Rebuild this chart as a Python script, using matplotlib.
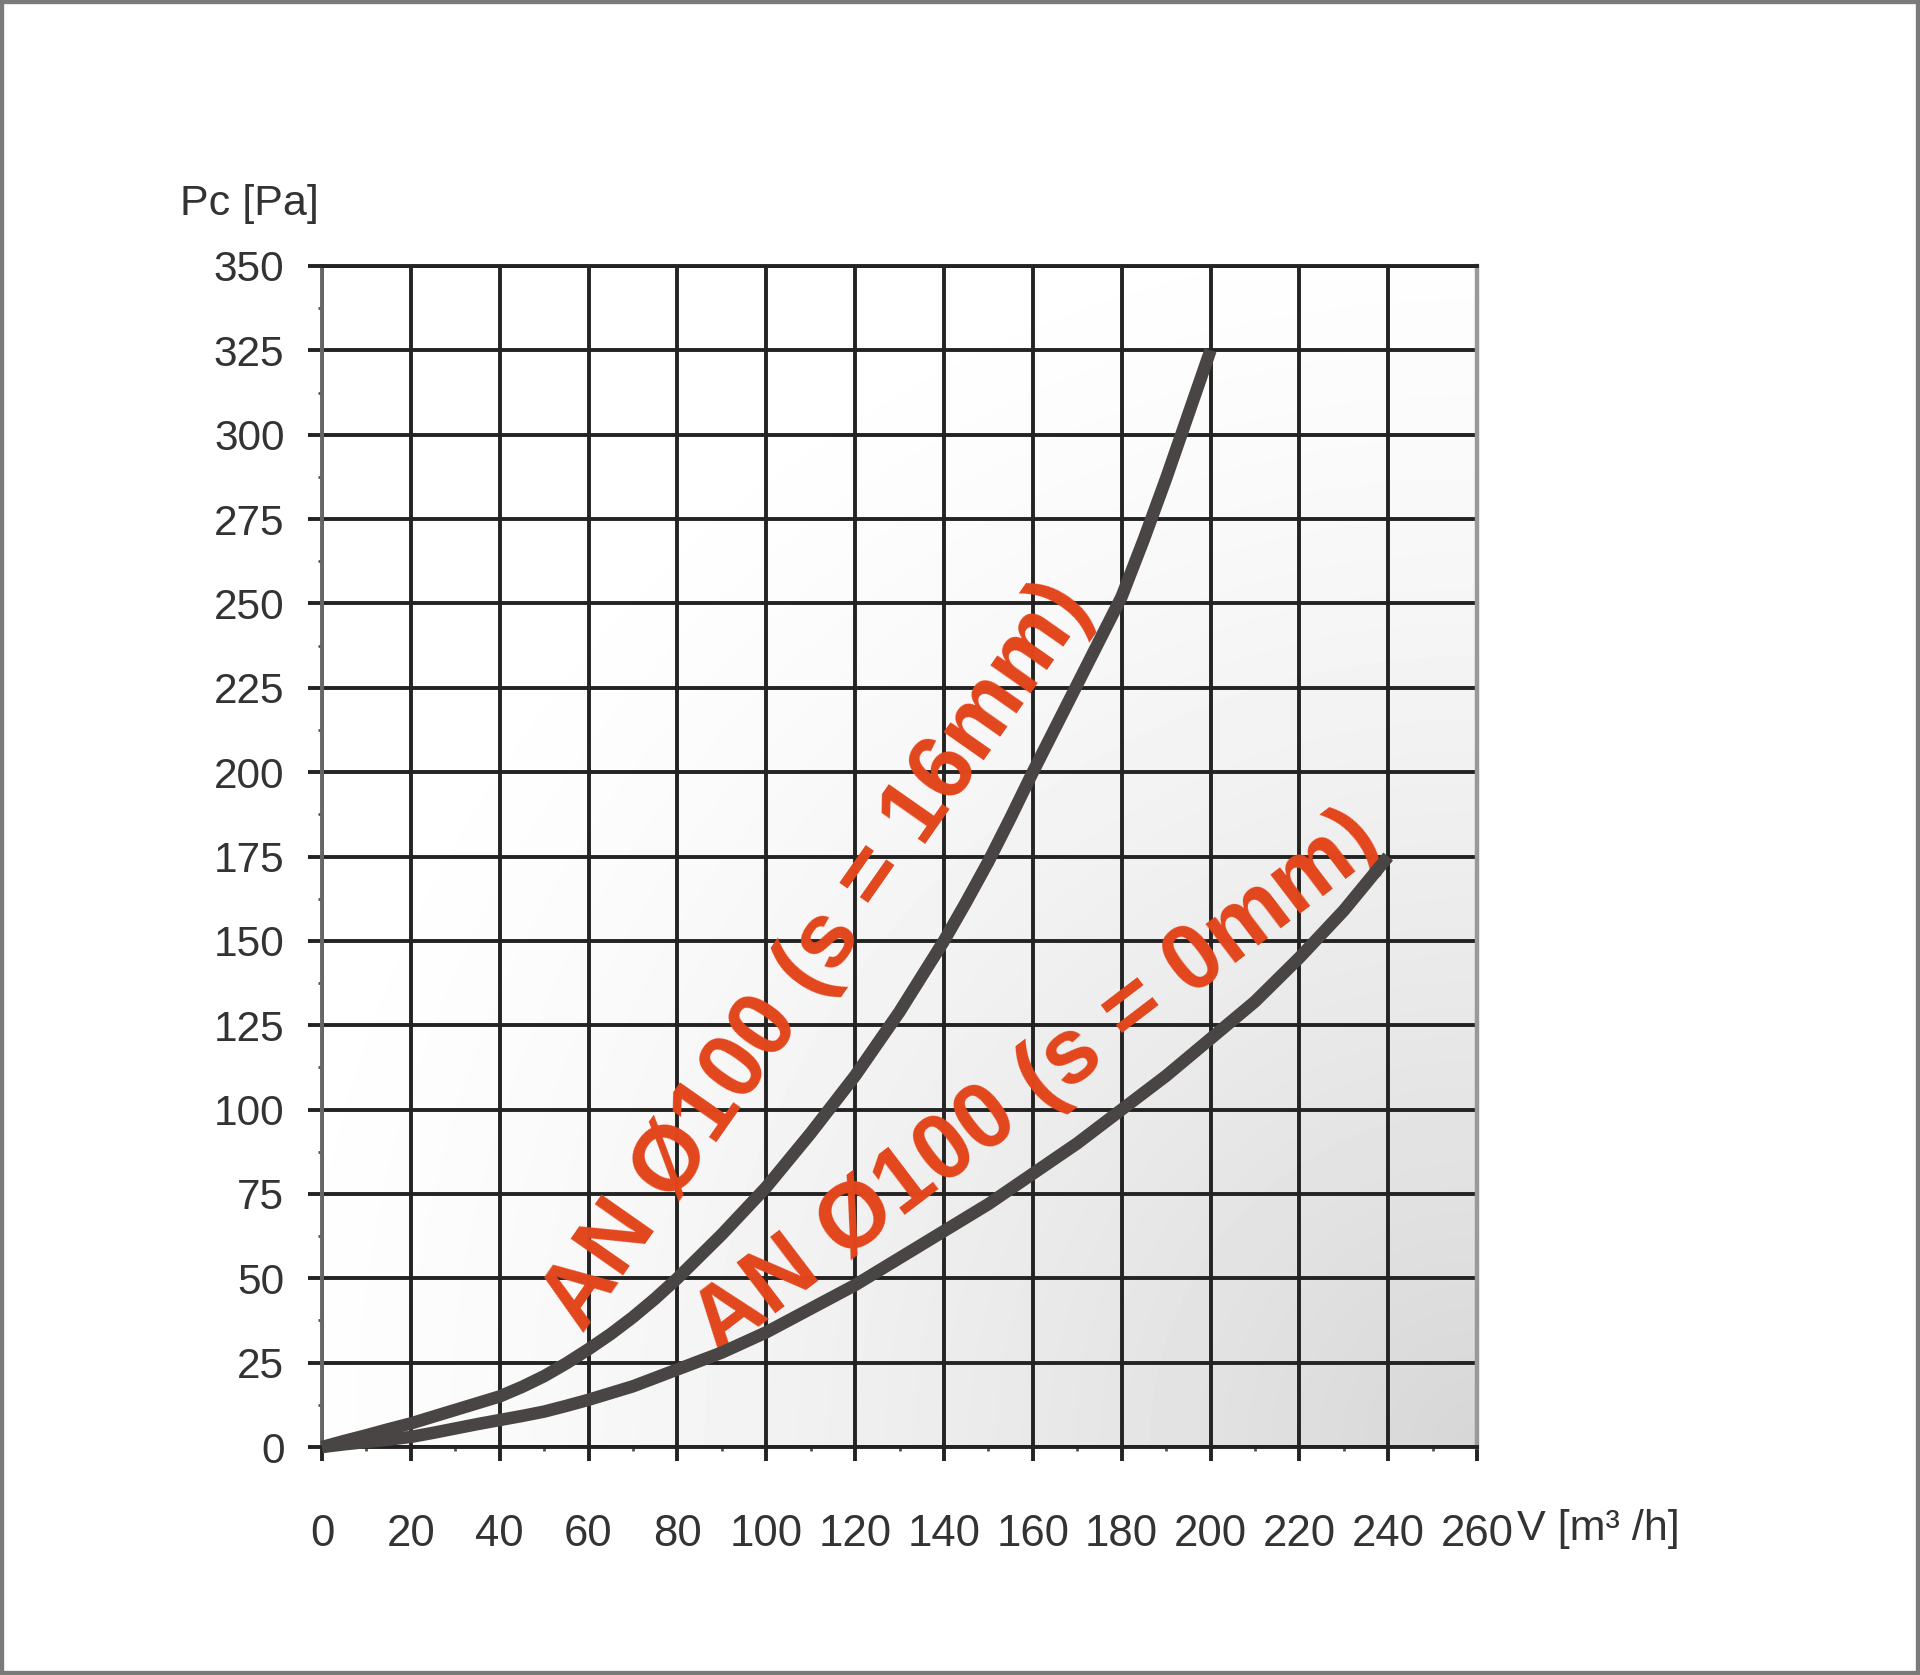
import numpy as np
import matplotlib
matplotlib.use('Agg')
import matplotlib.pyplot as plt
from matplotlib.patches import Rectangle

plt.rcParams['font.family'] = ['Liberation Sans', 'DejaVu Sans']

# airflow [m3/h] and pressure drop [Pa], every 5 m3/h
flow_16mm = list(range(0, 201, 5))
pc_16mm = [0, 1.8, 3.5, 5.3, 7, 9, 11, 13, 15, 17.8, 21, 24.8, 29, 33.5,
           38.5, 44, 50, 56.5, 63, 70, 77, 85, 93, 101.5, 110, 119.5, 129,
           139.5, 150, 161.5, 173.5, 186.5, 200, 213, 226, 239, 252, 269,
           287, 306, 325]

flow_0mm = list(range(0, 241, 5))
pc_0mm = [0, 0.8, 1.5, 2.2, 3, 4.2, 5.5, 6.8, 8, 9.2, 10.5, 12.2, 14, 16,
          18, 20.5, 23, 25.5, 28, 31, 34, 37.5, 41, 44.5, 48, 52, 56, 60,
          64, 68, 72, 76.5, 81, 85.5, 90, 95, 100, 105, 110, 115.5, 121,
          126.5, 132, 138.5, 145, 152, 159, 167, 175]

x_ticks = list(range(0, 261, 20))
y_ticks = list(range(0, 351, 25))

label_16mm = 'AN Ø100 (s = 16mm)'
label_0mm = 'AN Ø100 (s = 0mm)'

grid_col = '#232323'
curve_col = '#4a4545'
text_col = '#e2461c'

fig = plt.figure(figsize=(19.2, 16.75), dpi=100)
ax = fig.add_axes([0.1677, 0.1361, 0.6016, 0.7051])

# soft gray gradient towards bottom right
gx, gy = np.meshgrid(np.linspace(0, 1, 300), np.linspace(0, 1, 300))
d = np.sqrt((1 - gx) ** 2 + gy ** 2)
shade = 1 - 0.16 * np.clip(1 - d / 1.1, 0, 1) ** 1.4
ax.imshow(shade, extent=[0, 260, 0, 350], origin='lower', aspect='auto',
          cmap='gray', vmin=0, vmax=1, zorder=0, interpolation='bilinear')

ax.plot(flow_16mm, pc_16mm, color=curve_col, lw=9, zorder=5,
        solid_capstyle='butt', solid_joinstyle='round', clip_on=False)
ax.plot(flow_0mm, pc_0mm, color=curve_col, lw=9, zorder=5,
        solid_capstyle='butt', solid_joinstyle='round', clip_on=False)

ax.text(111.5, 145.5, label_16mm, rotation=55, rotation_mode='anchor',
        ha='center', va='center', color=text_col, fontsize=66,
        fontweight='bold', zorder=4)
ax.text(161, 107.5, label_0mm, rotation=37.3, rotation_mode='anchor',
        ha='center', va='center', color=text_col, fontsize=66,
        fontweight='bold', zorder=4)

ax.set_xlim(0, 260)
ax.set_ylim(0, 350)
ax.set_xticks(x_ticks)
ax.set_yticks(y_ticks)
ax.set_xticks(range(10, 260, 20), minor=True)
ax.set_yticks(np.arange(12.5, 350, 25), minor=True)
ax.grid(True, which='major', color=grid_col, lw=2.8)

ax.tick_params(axis='both', which='major', direction='out', length=10,
               width=2.8, color=grid_col, labelcolor='#333333')
ax.tick_params(axis='x', which='major', pad=38, labelsize=31.5)
ax.tick_params(axis='y', which='major', pad=17, labelsize=30.5)
ax.tick_params(axis='both', which='minor', direction='out', length=3,
               width=2, color='#555555')

ax.spines['left'].set_color('#666666')
ax.spines['left'].set_linewidth(2.8)
ax.spines['bottom'].set_color(grid_col)
ax.spines['bottom'].set_linewidth(2.8)
ax.spines['top'].set_color(grid_col)
ax.spines['top'].set_linewidth(2.8)
ax.spines['right'].set_color('#999999')
ax.spines['right'].set_linewidth(3.2)

ax.text(1.035, -0.0694, 'V [m³ /h]', transform=ax.transAxes, ha='left',
        va='center', fontsize=31, color='#333333')
fig.text(0.094, 0.8785, 'Pc [Pa]', ha='left', va='center', fontsize=31,
         color='#333333')

fig.patches.append(Rectangle((0, 0), 1, 1, transform=fig.transFigure,
                             fill=False, edgecolor='#7a7a7a', lw=6))

fig.savefig('out.png', dpi=100)
